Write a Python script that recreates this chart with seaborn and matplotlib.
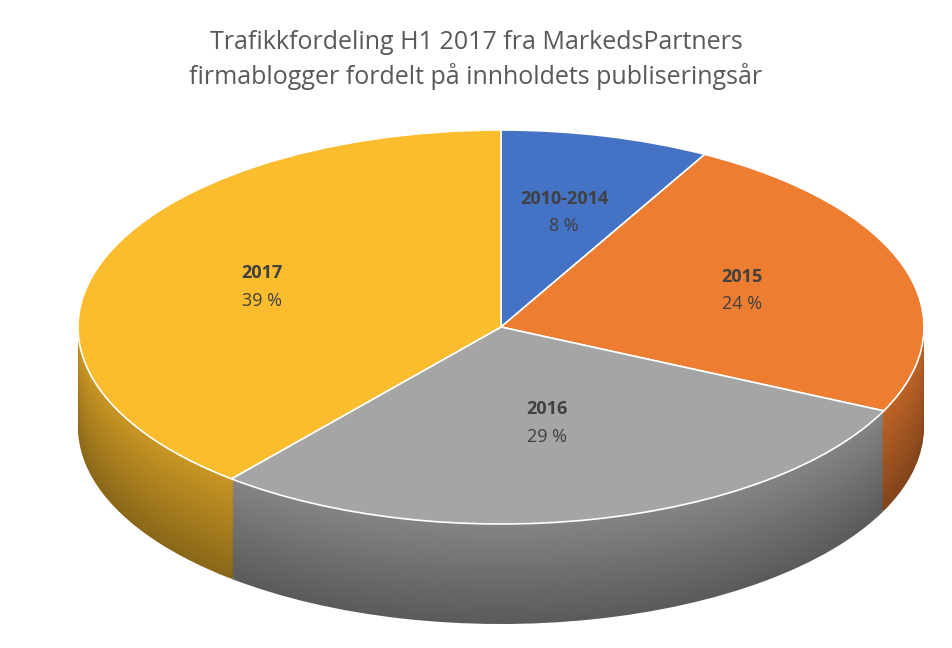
import matplotlib
matplotlib.use("Agg")
import matplotlib.pyplot as plt
import seaborn as sns
import numpy as np
from matplotlib.colors import to_rgb

categories = ["2010-2014", "2015", "2016", "2017"]
values = [8, 24, 29, 39]
colors = ["#4472C4", "#ED7D31", "#A5A5A5", "#FBBC2D"]

sns.set_theme(style="white", rc={"font.family": "Open Sans"})
fig = plt.figure(figsize=(9.52, 6.48), dpi=100)
ax = fig.add_axes([0, 0, 1, 1])

rx, ry, cx, cy, depth = 423, 197, 501, 327, 100

def shade(c, f):
    r, g, b = to_rgb(c)
    return (r * f, g * f, b * f)

d = depth / ry
steps = 40
for i in range(steps, 0, -1):
    off = -d * i / steps
    f = 0.55 + 0.25 * (1 - i / steps)
    ax.pie(values, colors=[shade(c, f) for c in colors], startangle=90,
           counterclock=False, center=(0, off), radius=1, frame=True,
           wedgeprops=dict(linewidth=0))
ax.pie(values, colors=colors, startangle=90, counterclock=False, center=(0, 0),
       radius=1, frame=True, wedgeprops=dict(linewidth=1.2, edgecolor="white"))
ax.set_aspect("auto")
ax.set_axis_off()
ax.set_xlim(-cx / rx, (952 - cx) / rx)
ax.set_ylim(-(648 - cy) / ry, cy / ry)

total = sum(values)
start = 90.0
rfac = [0.6, 0.6, 0.5, 0.6]
for cat, v, rf in zip(categories, values, rfac):
    mid = np.deg2rad(start - 360 * v / total / 2)
    start -= 360 * v / total
    x, y = rf * np.cos(mid), rf * np.sin(mid)
    ax.text(x, y + 0.07, cat, ha="center", va="center", fontsize=13,
            fontweight="bold", color="#404040")
    ax.text(x, y - 0.07, f"{v} %", ha="center", va="center", fontsize=13,
            color="#404040")

fig.text(0.5, 0.907, "Trafikkfordeling H1 2017 fra MarkedsPartners\nfirmablogger fordelt på innholdets publiseringsår",
         ha="center", va="center", fontsize=18, color="#595959", linespacing=1.4)
fig.savefig("out.png", dpi=100)
